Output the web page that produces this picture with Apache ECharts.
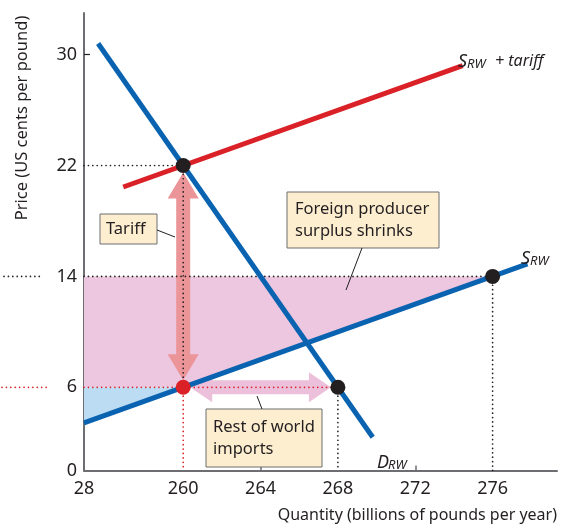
<!DOCTYPE html>
<html><head><meta charset="utf-8">
<script src="https://cdn.jsdelivr.net/npm/echarts@6/dist/echarts.min.js"></script>
<style>html,body{margin:0;padding:0;background:#fff}#c{width:570px;height:527px}</style>
</head><body><div id="c"></div>
<script>
// Axis ranges (both axes are broken; the quantity origin is labelled 28)
const xMin = 254.87, xMax = 279.33;
const yMin = 0, yMax = 33;
const xTickValues = [260, 264, 268, 272, 276];
const xOriginLabel = '28';
const yTickValues = [0, 6, 14, 22, 30];

// Rest-of-world demand and supply curves
const demandRW = [[255.6, 30.8], [269.8, 2.4]];
const supplyRW = [[254.87, 3.44], [277.8, 14.9]];
const supplyTariff = [[256.9, 20.45], [274.45, 29.2]];

// Key prices (US cents per pound) and quantities (billions of pounds)
const worldPrice = 6, tariffPrice = 22, freeTradePrice = 14;
const exportsWithTariff = 260, demandAtWorldPrice = 268, freeTradeQty = 276;

const blackPoints = [[exportsWithTariff, tariffPrice], [demandAtWorldPrice, worldPrice], [freeTradeQty, freeTradePrice]];
const redPoints = [[exportsWithTariff, worldPrice]];

// Shaded areas
const surplusLost = [[xMin, freeTradePrice], [freeTradeQty, freeTradePrice], [exportsWithTariff, worldPrice], [xMin, worldPrice]];
const surplusKept = [[xMin, worldPrice], [exportsWithTariff, worldPrice], [xMin, 3.44]];

const INK = '#231f20', RED = '#db2128', BLUE = '#0a63b0', AXIS = '#6d6e71';
const FONT = '"Noto Sans", sans-serif';

function polygonSeries(points, color, z) {
  return {
    type: 'custom', silent: true, z: z, data: [[xMin, 0]],
    renderItem: (params, api) => ({
      type: 'polygon',
      shape: { points: points.map(p => api.coord(p)) },
      style: { fill: color }
    })
  };
}

// Double-headed arrow between two data points, drawn in pixel space
function arrowSeries(a, b, color, opt, z) {
  return {
    type: 'custom', silent: true, z: z, data: [[xMin, 0]],
    renderItem: (params, api) => {
      const A = api.coord(a), B = api.coord(b);
      const dx = B[0] - A[0], dy = B[1] - A[1];
      const len = Math.hypot(dx, dy);
      const u = [dx / len, dy / len], n = [-u[1], u[0]];
      const P = (p, s, t) => [p[0] + u[0] * s + n[0] * t, p[1] + u[1] * s + n[1] * t];
      const A1 = P(A, opt.inset, 0), B1 = P(B, -opt.inset, 0);
      const h = opt.head, hw = opt.headW / 2, sw = opt.shaftW / 2;
      const pts = [A1, P(A1, h, hw), P(A1, h, sw), P(B1, -h, sw), P(B1, -h, hw), B1,
                   P(B1, -h, -hw), P(B1, -h, -sw), P(A1, h, -sw), P(A1, h, -hw)];
      return { type: 'polygon', shape: { points: pts }, style: { fill: color } };
    }
  };
}

// Round dots roughly 4.4 px apart
const DOT_STYLE = { width: 1.7, type: [0.01, 4.4], cap: 'round' };

function dotted(data, color, z) {
  return {
    type: 'line', data: data, symbol: 'none', silent: true, z: z,
    lineStyle: Object.assign({ color: color }, DOT_STYLE)
  };
}

function curve(data, color) {
  return {
    type: 'line', data: data, symbol: 'none', silent: true, z: 5,
    lineStyle: { color: color, width: 5, cap: 'butt' }
  };
}

const chart = echarts.init(document.getElementById('c'), null, { renderer: 'canvas' });

const option = {
  animation: false,
  backgroundColor: '#fff',
  grid: { left: 84, right: 13, top: 13, bottom: 56.5, containLabel: false },
  xAxis: {
    type: 'value', min: xMin, max: xMax,
    splitLine: { show: false },
    axisLine: { lineStyle: { color: AXIS, width: 2 } },
    axisTick: { customValues: [264, 272], inside: true, length: 5, lineStyle: { color: AXIS, width: 1.5 } },
    axisLabel: {
      customValues: [xMin].concat(xTickValues),
      formatter: v => (Math.abs(v - xMin) < 1e-6 ? xOriginLabel : String(v)),
      color: v => (v === exportsWithTariff ? RED : INK),
      fontFamily: FONT, fontSize: 18, margin: 9
    }
  },
  yAxis: {
    type: 'value', min: yMin, max: yMax,
    splitLine: { show: false },
    axisLine: { lineStyle: { color: AXIS, width: 2 } },
    axisTick: { customValues: [30], inside: true, length: 6, lineStyle: { color: INK, width: 1.2 } },
    axisLabel: {
      customValues: yTickValues,
      color: v => (v === worldPrice ? RED : INK),
      fontFamily: FONT, fontSize: 18, margin: 7
    }
  },
  series: [
    polygonSeries(surplusLost, '#ecc7df', 1),
    polygonSeries(surplusKept, '#bcdcf3', 1),
    arrowSeries([exportsWithTariff, tariffPrice], [exportsWithTariff, worldPrice], '#ec9599',
      { inset: 7, head: 26, headW: 31, shaftW: 14 }, 2),
    arrowSeries([exportsWithTariff, worldPrice], [demandAtWorldPrice, worldPrice], '#ecc0da',
      { inset: 7, head: 22, headW: 30, shaftW: 14 }, 2),
    // price reference lines
    dotted([[xMin, tariffPrice], [exportsWithTariff, tariffPrice]], INK, 3),
    dotted([[xMin, freeTradePrice], [freeTradeQty, freeTradePrice]], INK, 3),
    dotted([[xMin, worldPrice], [demandAtWorldPrice, worldPrice]], RED, 3),
    // quantity reference lines
    dotted([[exportsWithTariff, tariffPrice], [exportsWithTariff, worldPrice]], INK, 3),
    dotted([[exportsWithTariff, worldPrice], [exportsWithTariff, 0]], RED, 3),
    dotted([[demandAtWorldPrice, worldPrice], [demandAtWorldPrice, 0]], INK, 3),
    dotted([[freeTradeQty, freeTradePrice], [freeTradeQty, 0]], INK, 3),
    // curves
    curve(supplyTariff, RED),
    curve(demandRW, BLUE),
    curve(supplyRW, BLUE),
    {
      type: 'scatter', data: blackPoints, symbolSize: 15, z: 6, silent: true,
      itemStyle: { color: INK, opacity: 1 }
    },
    {
      type: 'scatter', data: redPoints, symbolSize: 15, z: 6, silent: true,
      itemStyle: { color: RED, opacity: 1 }
    }
  ]
};

chart.setOption(option);

// Curve names, call-out boxes and axis titles
function subLabel(x, y, main, sub, subDx, rest, restDx) {
  const els = [
    { type: 'text', x: x, y: y, z: 20, style: { text: main, font: 'italic 18px ' + FONT, fill: INK, textVerticalAlign: 'alphabetic' } },
    { type: 'text', x: x + subDx, y: y + 5, z: 20, style: { text: sub, font: 'italic 13px ' + FONT, fill: INK, textVerticalAlign: 'alphabetic' } }
  ];
  if (rest) els.push({ type: 'text', x: x + restDx, y: y, z: 20, style: { text: rest, font: 'italic 16px ' + FONT, fill: INK, textVerticalAlign: 'alphabetic' } });
  return els;
}

function callout(x, y, w, h, lines, tx) {
  return [
    { type: 'rect', shape: { x: x, y: y, width: w, height: h }, style: { fill: '#fdeed0', stroke: '#6d6e71', lineWidth: 1 }, z: 20 },
    { type: 'text', x: x + tx, y: y + h / 2, z: 21,
      style: { text: lines.join('\n'), font: '16.5px ' + FONT, fill: INK, lineHeight: 22, textVerticalAlign: 'middle' } }
  ];
}

function leader(x1, y1, x2, y2) {
  return { type: 'line', z: 20, shape: { x1: x1, y1: y1, x2: x2, y2: y2 }, style: { stroke: INK, lineWidth: 1 } };
}

// Short dotted guides that continue the price lines to the left of the value axis
function outerGuide(price, x1, x2, color) {
  const y = chart.convertToPixel({ gridIndex: 0 }, [xMin, price])[1];
  return { type: 'line', z: 20, shape: { x1: x1, y1: y, x2: x2, y2: y },
    style: { stroke: color, lineWidth: DOT_STYLE.width, lineDash: DOT_STYLE.type, lineCap: 'round' } };
}

const graphics = []
  .concat(subLabel(458, 53, 'S', 'RW', 9, '+ tariff', 37))
  .concat(subLabel(521, 250, 'S', 'RW', 9))
  .concat(subLabel(377, 454, 'D', 'RW', 11))
  .concat(callout(100, 214, 57, 30, ['Tariff'], 6))
  .concat(callout(287, 192, 152, 56, ['Foreign producer', 'surplus shrinks'], 8))
  .concat(callout(206, 409, 116, 58, ['Rest of world', 'imports'], 7))
  .concat([
    leader(157, 230, 175, 237),
    leader(362, 248, 346, 290),
    leader(257, 396, 262, 409),
    outerGuide(freeTradePrice, 4, 43, INK),
    outerGuide(worldPrice, 2, 50, RED),
    { type: 'text', x: 557, y: 515, z: 20,
      style: { text: 'Quantity (billions of pounds per year)', font: '16px ' + FONT, fill: INK, textAlign: 'right', textVerticalAlign: 'middle' } },
    { type: 'text', x: 22, y: 118, rotation: Math.PI / 2, z: 20,
      style: { text: 'Price (US cents per pound)', font: '16.5px ' + FONT, fill: INK, textAlign: 'center', textVerticalAlign: 'middle' } }
  ]);

chart.setOption({ graphic: graphics });
</script>
</body></html>
